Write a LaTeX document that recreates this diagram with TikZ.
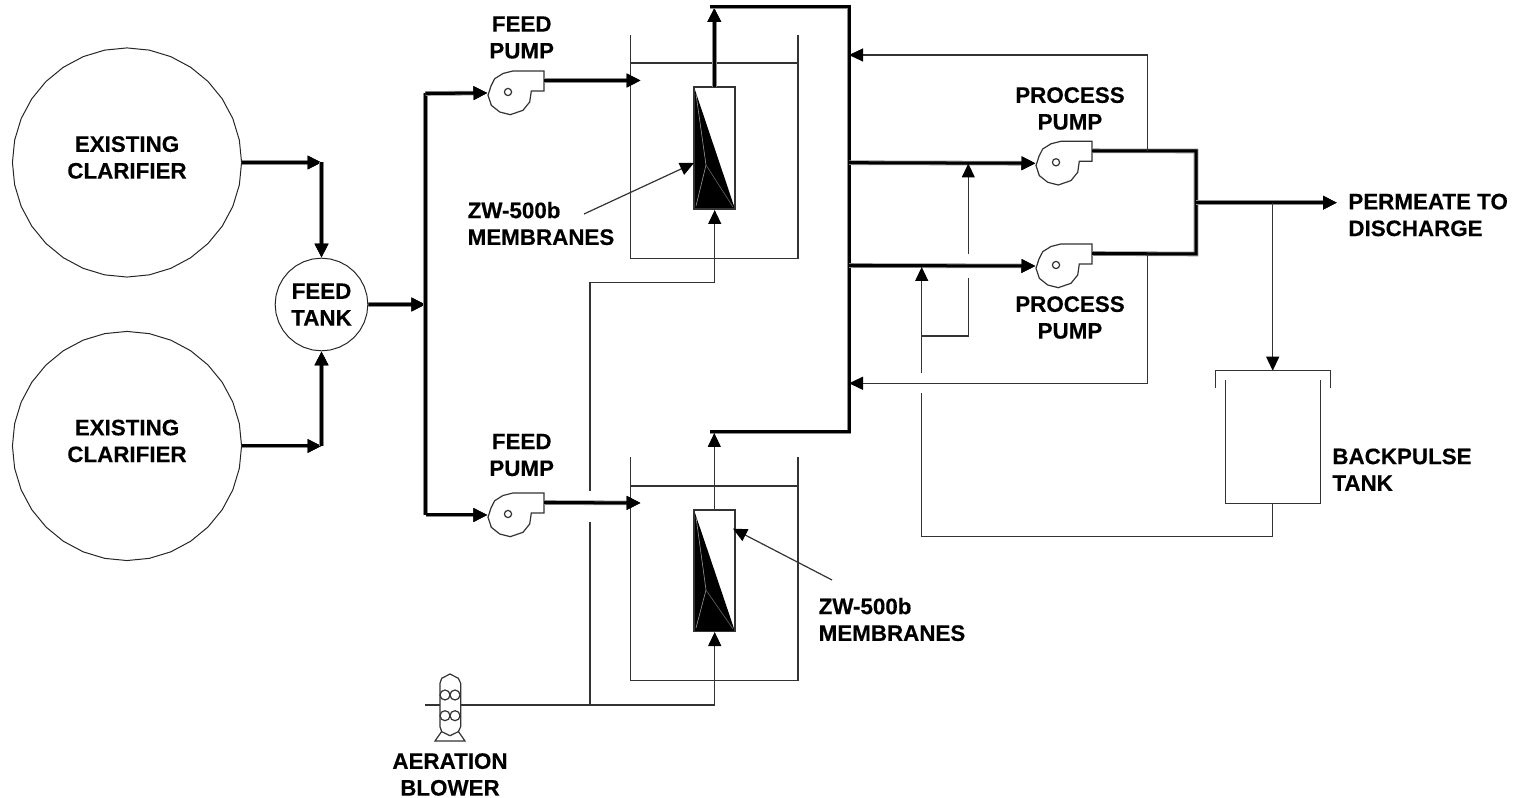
\documentclass[tikz,border=0pt]{standalone}
\usepackage{fontspec}
\setmainfont{Liberation Sans}[BoldFont={Liberation Sans Bold},BoldFeatures={FakeBold=.3}]
\usetikzlibrary{arrows.meta,shapes.geometric}
\tikzset{
  thinpipe/.style={line width=.012cm,draw=black!80},
  pipe/.style={line width=.03cm,draw=black,preaction={draw=black!45,line width=.046cm}},
  flow/.style={-{Triangle[length=.14cm,width=.13cm,black]}},
  tankshape/.style={regular polygon,regular polygon sides=32,shape border rotate=5.625,draw=black!85,line width=.01cm,inner sep=0pt},
  lbl/.style={font=\bfseries\fontsize{6.36}{7.6}\selectfont,align=center,inner sep=0pt},
  lblleft/.style={lbl,align=left,anchor=west},
  pumpsym/.pic={
    \draw[thinpipe,fill=white] (36,-21)--(36,-1)--(23.3,-1)--(21.7,10)--(15,18.3)--(2.3,22.7)--(-8.3,20)--(-16.7,13.3)--(-20,3.3)--(-17,-6)--(-13.3,-13.3)--(-5,-18.5)--(5,-21)--cycle;
    \draw[thinpipe] (0,0) circle[radius=3.6];
    \coordinate (-in) at (-20.5,1); \coordinate (-out) at (36,-11.5);
  }
}
\begin{document}
\begin{tikzpicture}[x=.01cm,y=-.01cm]
\useasboundingbox (0,0) rectangle (1527,798);
\node[tankshape,minimum size=2.29cm] (clarifierA) at (127,162.5) {}; \node[tankshape,minimum size=2.29cm] (clarifierB) at (127,446) {};
\node[lbl] (clarifierAlbl) at (127,157.5) {EXISTING\\CLARIFIER}; \node[lbl] (clarifierBlbl) at (127,441) {EXISTING\\CLARIFIER};
\node[tankshape,minimum size=.926cm,lbl,draw=black!85] (feedtank) at (321.5,304.5) {FEED\\TANK};
\pic (feedpumpA) at (508,92) {pumpsym}; \pic (feedpumpB) at (508,514) {pumpsym};
\pic (procpumpA) at (1056,162.3) {pumpsym}; \pic (procpumpB) at (1056,265) {pumpsym};
\coordinate (A1) at (clarifierA.east -| feedtank.north); \coordinate (A2) at (clarifierB.east -| feedtank.south);
\draw[pipe,flow] (clarifierA.east)--(A1); \draw[pipe,flow] (A1)--(feedtank.north);
\draw[pipe,flow] (clarifierB.east)--(A2); \draw[pipe,flow] (A2)--(feedtank.south);
\coordinate (B1) at (425.5,304.5); \coordinate (B2) at (425.5,93.5); \coordinate (B3) at (425.5,515);
\draw[pipe,flow] (feedtank.east)--(B1); \draw[pipe] (B2)--(B3);
\draw[pipe,flow] (B2)--(feedpumpA-in); \draw[pipe,flow] (B3)--(feedpumpB-in);
\coordinate (C1) at (630.5,35); \coordinate (C2) at (630.5,258.3); \coordinate (C3) at (798,258.3); \coordinate (C4) at (798,35); \coordinate (C5) at (630.5,63); \coordinate (C6) at (798,63);
\draw[thinpipe] (C1)--(C2)--(C3)--(C4); \draw[thinpipe] (C5)--(C6);
\coordinate (D1) at (630.5,457.3); \coordinate (D2) at (630.5,680.7); \coordinate (D3) at (798,680.7); \coordinate (D4) at (798,457.3); \coordinate (D5) at (630.5,486); \coordinate (D6) at (798,486);
\draw[thinpipe] (D1)--(D2)--(D3)--(D4); \draw[thinpipe] (D5)--(D6);
\coordinate (E1) at (640.7,80.5); \coordinate (E2) at (640.7,503);
\draw[pipe,flow] (feedpumpA-out)--(E1); \draw[pipe,flow] (feedpumpB-out)--(E2);
\coordinate (F1) at (694,87); \coordinate (F2) at (735,87); \coordinate (F3) at (735,209); \coordinate (F4) at (694,209); \coordinate (F5) at (706,165);
\fill (F1)--(F3)--(F4)--cycle; \draw[thinpipe] (F1)--(F2)--(F3)--(F4)--cycle;
\draw[white!60!black,line width=.006cm] (696,94)--(F5)--(696,206); \draw[white!40!black,line width=.006cm] (F5)--(733,207);
\coordinate (G1) at (694,510); \coordinate (G2) at (735,510); \coordinate (G3) at (735,631.5); \coordinate (G4) at (694,631.5); \coordinate (G5) at (706,590);
\fill (G1)--(G3)--(G4)--cycle; \draw[thinpipe] (G1)--(G2)--(G3)--(G4)--cycle;
\draw[white!60!black,line width=.006cm] (696,517)--(G5)--(696,628); \draw[white!40!black,line width=.006cm] (G5)--(733,629);
\coordinate (H1) at (714.3,87); \coordinate (H2) at (714.3,8); \coordinate (H3) at (710,7); \coordinate (H4) at (849,7); \coordinate (H5) at (849,432); \coordinate (H6) at (710,432);
\coordinate (H7) at (714.3,510); \coordinate (H8) at (714.3,433);
\draw[pipe,flow] (H1)--(H2); \draw[pipe] (H3)--(H4)--(H5)--(H6); \draw[thinpipe,flow] (H7)--(H8);
\coordinate (J1) at (849,162.7); \coordinate (J2) at (849,265.5);
\draw[pipe,flow] (J1)--(procpumpA-in); \draw[pipe,flow] (J2)--(procpumpB-in);
\coordinate (K1) at (1196,151); \coordinate (K2) at (1196,254); \coordinate (K3) at (1196,202.7); \coordinate (K4) at (1337,202.7);
\draw[pipe] (procpumpA-out)--(K1)--(K2)--(procpumpB-out); \draw[pipe,flow] (K3)--(K4);
\coordinate (L1) at (1147.3,151); \coordinate (L2) at (1147.3,55); \coordinate (L3) at (849,55); \coordinate (L4) at (1147.3,254); \coordinate (L5) at (1147.3,383.3); \coordinate (L6) at (849,383.3);
\draw[thinpipe,flow] (L1)--(L2)--(L3); \draw[thinpipe,flow] (L4)--(L5)--(L6);
\coordinate (M1) at (1272.7,202.7); \coordinate (M2) at (1272.7,370.7); \coordinate (M3) at (1215.3,388.3); \coordinate (M4) at (1215.3,370.7); \coordinate (M5) at (1330.7,370.7); \coordinate (M6) at (1330.7,388.3);
\coordinate (M7) at (1225.3,380); \coordinate (M8) at (1225.3,503.3); \coordinate (M9) at (1320.7,503.3); \coordinate (M10) at (1320.7,380); \coordinate (M11) at (1272.7,503.3);
\draw[thinpipe,flow] (M1)--(M2); \draw[thinpipe] (M3)--(M4)--(M5)--(M6); \draw[thinpipe] (M7)--(M8)--(M9)--(M10);
\coordinate (N1) at (1272.7,536.7); \coordinate (N2) at (921.7,536.7); \coordinate (N3) at (921.7,393.3); \coordinate (N4) at (921.7,373.3); \coordinate (N5) at (921.7,267);
\coordinate (N6) at (921.7,336); \coordinate (N7) at (968.3,336); \coordinate (N8) at (968.3,278.3); \coordinate (N9) at (968.3,254.3); \coordinate (N10) at (968.3,163.5);
\draw[thinpipe] (M11)--(N1)--(N2)--(N3); \draw[thinpipe,flow] (N4)--(N5); \draw[thinpipe] (N6)--(N7)--(N8); \draw[thinpipe,flow] (N9)--(N10);
\coordinate (P1) at (425,705); \coordinate (P2) at (590,705); \coordinate (P3) at (714.7,705); \coordinate (P4) at (714.7,632); \coordinate (P5) at (590,521.7); \coordinate (P6) at (590,491); \coordinate (P7) at (590,282.3); \coordinate (P8) at (714.7,282.3); \coordinate (P9) at (714.7,210);
\draw[thinpipe,flow] (P1)--(P3)--(P4); \draw[thinpipe] (P2)--(P5); \draw[thinpipe,flow] (P6)--(P7)--(P8)--(P9);
\draw[thinpipe,fill=white] (440,683.3)--(441.7,678.3)--(450,674)--(458.3,678.3)--(460.7,683.3)--(460.7,726.7)--(458.3,731.7)--(450,735.7)--(441.7,731.7)--(440,726.7)--cycle;
\foreach \cx in {445,455} \foreach \cy in {695,715.7} \draw[thinpipe] (\cx,\cy) circle[radius=5];
\draw[thinpipe] (442,731)--(435,741)--(465,741)--(458,731);
\coordinate (Q1) at (584,214); \coordinate (Q2) at (694,163); \coordinate (Q3) at (832,580); \coordinate (Q4) at (733,528.7);
\draw[thinpipe,flow] (Q1)--(Q2); \draw[thinpipe,flow] (Q3)--(Q4);
\node[lbl] (feedpumpAlbl) at (521.7,37.5) {FEED\\PUMP}; \node[lbl] (feedpumpBlbl) at (521.7,455) {FEED\\PUMP};
\node[lbl] (procpumpAlbl) at (1070,108.5) {PROCESS\\PUMP}; \node[lbl] (procpumpBlbl) at (1070,317.5) {PROCESS\\PUMP};
\node[lblleft] (membraneA) at (467,223.5) {ZW-500b\\MEMBRANES}; \node[lblleft] (membraneB) at (818,619.5) {ZW-500b\\MEMBRANES};
\node[lblleft] (permeate) at (1347.7,215) {PERMEATE TO\\DISCHARGE}; \node[lblleft] (backpulse) at (1331.7,469.7) {BACKPULSE\\TANK};
\node[lbl] (blower) at (450,774.5) {AERATION\\BLOWER};
\end{tikzpicture}
\end{document}
